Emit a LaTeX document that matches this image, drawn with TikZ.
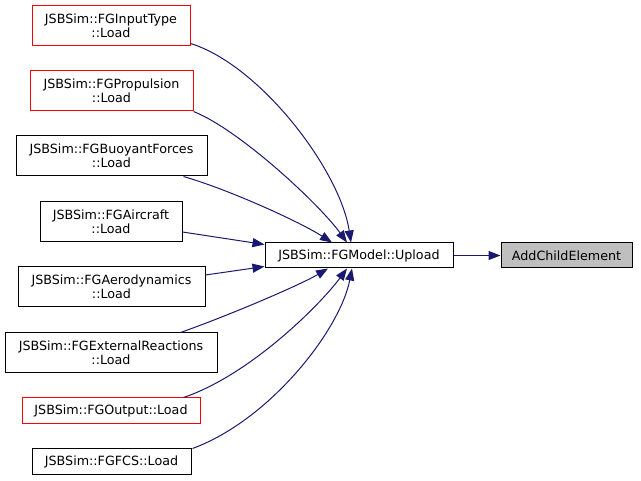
\documentclass[tikz,border=0pt]{standalone}
\usepackage{fontspec}
\setmainfont{DejaVu Sans}
\usetikzlibrary{arrows.meta}

\definecolor{edgeblue}{RGB}{25,25,112}
\definecolor{fillgray}{RGB}{191,191,191}

\tikzset{
  fnbox/.style={draw=black, line width=1pt, align=center, inner sep=0pt,
                minimum height=40pt, font=\fontsize{12.7}{14.5}\selectfont},
  redbox/.style={fnbox, draw=red},
  callarrow/.style={draw=edgeblue, line width=1pt,
                    -{Triangle[length=12pt,width=9pt]}}
}

\begin{document}
\begin{tikzpicture}[x=1pt, y=-1pt]
  \useasboundingbox (0,0) rectangle (641,481);

  \node[redbox, minimum width=158pt] (inputtype) at (111,26) {JSBSim::FGInputType\\::Load};
  \node[redbox, minimum width=163pt] (propulsion) at (111.5,91) {JSBSim::FGPropulsion\\::Load};
  \node[fnbox, minimum width=191pt] (buoyant) at (111.5,156) {JSBSim::FGBuoyantForces\\::Load};
  \node[fnbox, minimum width=142pt] (aircraft) at (111,222) {JSBSim::FGAircraft\\::Load};
  \node[fnbox, minimum width=187pt] (aero) at (111.5,287) {JSBSim::FGAerodynamics\\::Load};
  \node[fnbox, minimum width=212pt] (external) at (111,353) {JSBSim::FGExternalReactions\\::Load};
  \node[redbox, minimum width=178pt, minimum height=26pt] (output) at (111,411) {JSBSim::FGOutput::Load};
  \node[fnbox, minimum width=159pt, minimum height=26pt] (fcs) at (111.5,462) {JSBSim::FGFCS::Load};

  \node[fnbox, minimum width=188pt, minimum height=25pt] (upload) at (359,255.5) {JSBSim::FGModel::Upload};
  \node[fnbox, fill=fillgray, minimum width=131pt, minimum height=25pt] (addchild) at (566.5,255.5) {AddChildElement};

  \draw[callarrow] ([yshift=3pt]inputtype.south east)
        .. controls (260,65) and (340,170) .. ([xshift=-8pt]upload.north);
  \draw[callarrow] (propulsion.south east)
        .. controls (240,130) and (320,205) .. ([xshift=-12pt]upload.north);
  \draw[callarrow] ([xshift=-24pt]buoyant.south east)
        .. controls (230,190) and (300,222) .. ([xshift=-27pt]upload.north);
  \draw[callarrow] ([yshift=-10pt]aircraft.east) -- ([yshift=-2pt]upload.north west);
  \draw[callarrow] ([yshift=12pt]aero.east) -- ([yshift=2pt]upload.south west);
  \draw[callarrow] ([xshift=-37pt]external.north east)
        .. controls (230,315) and (300,285) .. ([xshift=-31pt]upload.south);
  \draw[callarrow] ([xshift=-17pt]output.north east)
        .. controls (250,375) and (320,305) .. ([xshift=-12pt]upload.south);
  \draw[callarrow] ([xshift=1pt]fcs.north east)
        .. controls (270,420) and (340,330) .. ([xshift=-7pt]upload.south);

  \draw[callarrow] (upload) -- (addchild);
\end{tikzpicture}
\end{document}
